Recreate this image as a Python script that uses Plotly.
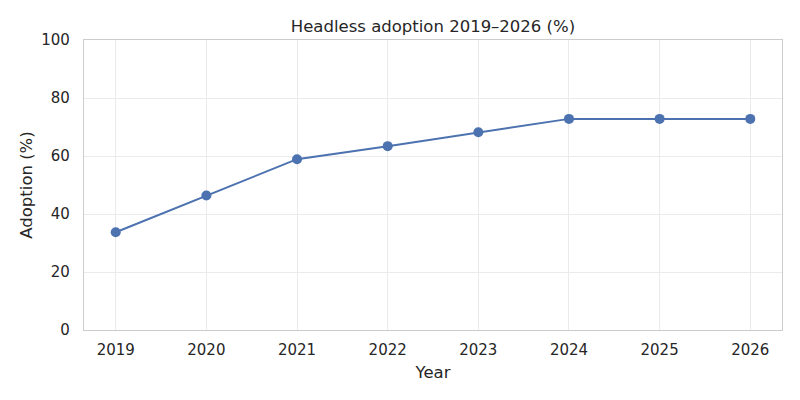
import plotly.graph_objects as go

years = [2019, 2020, 2021, 2022, 2023, 2024, 2025, 2026]
adoption = [33.7, 46.4, 58.9, 63.4, 68.2, 72.8, 72.8, 72.8]

fig = go.Figure()
fig.add_trace(
    go.Scatter(
        x=years,
        y=adoption,
        mode="lines+markers",
        line=dict(color="#4c72b0", width=2),
        marker=dict(color="#4c72b0", size=10),
    )
)

axis_style = dict(
    showgrid=True,
    gridcolor="#ebebeb",
    gridwidth=1,
    showline=True,
    linecolor="#cccccc",
    linewidth=1.3,
    mirror=True,
    zeroline=False,
    ticks="outside",
    tickcolor="rgba(0,0,0,0)",
    tickfont=dict(size=15, color="#262626"),
    title_font=dict(size=16.5, color="#262626"),
)

# page body has an 8px margin, so the figure is a bit smaller than the window
fig.update_layout(
    width=792,
    height=392,
    margin={"l": 76, "r": 18, "t": 32, "b": 70},
    paper_bgcolor="white",
    plot_bgcolor="white",
    font=dict(family="DejaVu Sans", color="#262626"),
    showlegend=False,
    title=dict(
        text="Headless adoption 2019–2026 (%)",
        x=(76 + 774) / 2 / 792,
        xanchor="center",
        y=1 - 18 / 392,
        yanchor="middle",
        font=dict(size=16.5, color="#262626"),
    ),
)
fig.update_xaxes(
    axis_style,
    title_text="Year",
    range=[2018.65, 2026.35],
    tickvals=years,
    ticklen=6,
    title_standoff=8,
)
fig.update_yaxes(
    axis_style,
    title_text="Adoption (%)",
    range=[0, 100],
    tickvals=[0, 20, 40, 60, 80, 100],
    ticklen=10,
    title_standoff=4,
)

fig.write_html("out.html")
